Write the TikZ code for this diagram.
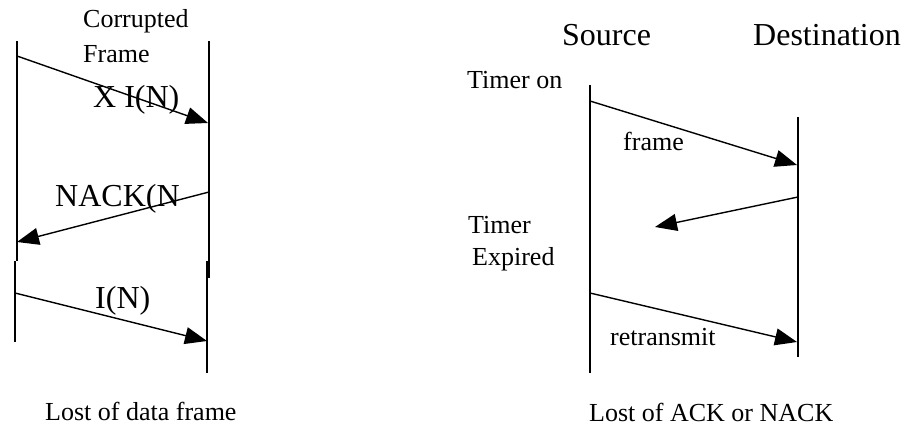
\documentclass[tikz,border=0pt]{standalone}
\usepackage{fontspec}
\setmainfont{Liberation Serif}
\usetikzlibrary{arrows.meta}
\tikzset{
  life/.style={line width=1.6pt},
  msg/.style={line width=1.4pt,-{Triangle[length=22pt,width=17pt]}},
  lbl/.style={anchor=base west,inner sep=0pt,font=\fontsize{26}{30}\selectfont},
  big/.style={anchor=base west,inner sep=0pt,font=\fontsize{32}{36}\selectfont}
}
\begin{document}
\begin{tikzpicture}[x=1pt,y=-1pt]
\useasboundingbox (0,0) rectangle (905,425);
% left diagram lifelines
\coordinate (l1t) at (17,41);  \coordinate (l1b) at (17,261);
\coordinate (l2t) at (15,261); \coordinate (l2b) at (15,342);
\coordinate (r1t) at (209,41); \coordinate (r1b) at (209,278);
\coordinate (r2t) at (207,261);\coordinate (r2b) at (207,373);
\draw[life] (l1t) -- (l1b);
\draw[life] (l2t) -- (l2b);
\draw[life] (r1t) -- (r1b);
\draw[life] (r2t) -- (r2b);
% messages
\coordinate (a1s) at (17,56);  \coordinate (a1e) at (208,123);
\coordinate (a2s) at (209,192); \coordinate (a2e) at (17,242);
\coordinate (a3s) at (15,293); \coordinate (a3e) at (207,341);
\draw[msg] (a1s) -- (a1e);
\draw[msg] (a2s) -- (a2e);
\draw[msg] (a3s) -- (a3e);
% labels
\node[lbl] (corr) at (83,28) {Corrupted};
\node[lbl] (fr) at (83,63) {Frame};
\node[big] (xin) at (93,108) {X I(N)};
\node[big] (nack) at (55,206) {NACK(N};
\node[big] (in) at (95,308) {I(N)};
\node[lbl] (lost1) at (45,420) {Lost of data frame};
% right diagram
\node[big] (src) at (562,46) {Source};
\node[big] (dst) at (753,46) {Destination};
\node[lbl] (ton) at (467,89) {Timer on};
\coordinate (st) at (590,85);  \coordinate (sb) at (590,373);
\coordinate (dt) at (798,117); \coordinate (db) at (798,357);
\draw[life] (st) -- (sb);
\draw[life] (dt) -- (db);
\coordinate (b1s) at (590,101); \coordinate (b1e) at (797,165);
\coordinate (b2s) at (798,197); \coordinate (b2e) at (655,227);
\coordinate (b3s) at (590,293); \coordinate (b3e) at (797,342);
\draw[msg] (b1s) -- (b1e);
\draw[msg] (b2s) -- (b2e);
\draw[msg] (b3s) -- (b3e);
\node[lbl] (frame) at (623,151) {frame};
\node[lbl] (tim) at (468,233) {Timer};
\node[lbl] (exp) at (472,265) {Expired};
\node[lbl] (ret) at (610,345) {retransmit};
\node[lbl] (lost2) at (589,421) {Lost of ACK or NACK};
\end{tikzpicture}
\end{document}
